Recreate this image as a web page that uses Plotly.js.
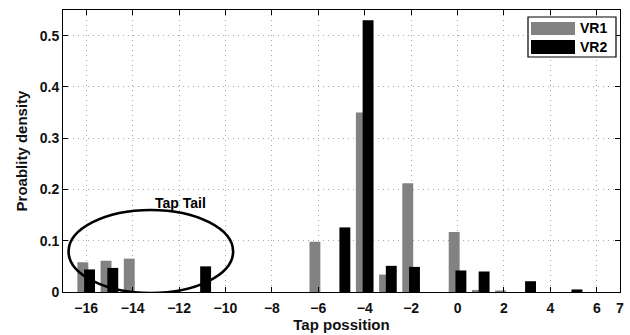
<!DOCTYPE html>
<html>
<head>
<meta charset="utf-8">
<script src="https://cdn.plot.ly/plotly-3.0.1.min.js"></script>
<style>html,body{margin:0;padding:0;background:#fff;}#chart{width:630px;height:335px;}</style>
</head>
<body>
<div id="chart"></div>
<script>
// Data
const vr1Taps = [-16, -15, -14, -6, -4, -3, -2, 0, 1, 2];
const vr1Density = [0.058, 0.061, 0.065, 0.098, 0.350, 0.034, 0.212, 0.117, 0.004, 0.003];
const vr2Taps = [-16, -15, -11, -5, -4, -3, -2, 0, 1, 3, 5];
const vr2Density = [0.044, 0.047, 0.050, 0.126, 0.530, 0.051, 0.049, 0.042, 0.040, 0.021, 0.005];
const xTickVals = [-16, -14, -12, -10, -8, -6, -4, -2, 0, 2, 4, 6, 7];
const xTickText = ['\u221216', '\u221214', '\u221212', '\u221210', '\u22128', '\u22126', '\u22124', '\u22122', '0', '2', '4', '6', '7'];
const yTickVals = [0, 0.1, 0.2, 0.3, 0.4, 0.5];
const yTickText = ['0', '0.1', '0.2', '0.3', '0.4', '0.5'];
const seriesNames = ['VR1', 'VR2'];
const seriesColors = ['#828282', '#000000'];

const FONT = 'Liberation Sans, Arial, Helvetica, sans-serif';

const traces = [
  {type: 'bar', name: seriesNames[0], x: vr1Taps, y: vr1Density, offset: -0.38, width: 0.47,
   marker: {color: seriesColors[0], line: {width: 0}}, showlegend: false},
  {type: 'bar', name: seriesNames[1], x: vr2Taps, y: vr2Density, offset: -0.09, width: 0.47,
   marker: {color: seriesColors[1], line: {width: 0}}, showlegend: false}
];

// plot area in pixels: x 63..620, y 10..292
const L = 63, R = 620, T = 10, B = 292;
const px = v => (v - L) / (R - L);
const py = v => (B - v) / (B - T);

const shapes = [
  {type: 'circle', xref: 'x', yref: 'y', x0: -16.76, x1: -9.67, y0: -0.002, y1: 0.160,
   line: {color: '#000', width: 2.6}},
  // legend box
  {type: 'rect', xref: 'paper', yref: 'paper', x0: px(528), x1: px(616), y0: py(57), y1: py(17),
   line: {color: '#000', width: 1.2}, fillcolor: '#fff', layer: 'above'},
  {type: 'rect', xref: 'paper', yref: 'paper', x0: px(531), x1: px(575), y0: py(35), y1: py(22),
   line: {width: 0}, fillcolor: seriesColors[0], layer: 'above'},
  {type: 'rect', xref: 'paper', yref: 'paper', x0: px(531), x1: px(575), y0: py(54), y1: py(40),
   line: {width: 0}, fillcolor: seriesColors[1], layer: 'above'}
];

const annotations = [
  {text: 'Tap Tail', xref: 'x', yref: 'y', x: -11.95, y: 0.1745, showarrow: false,
   font: {family: FONT, size: 14, color: '#000', weight: 'bold'}},
  {text: seriesNames[0], xref: 'paper', yref: 'paper', x: px(578), y: py(28.5), xanchor: 'left', yanchor: 'middle',
   showarrow: false, font: {family: FONT, size: 14, color: '#000', weight: 'bold'}},
  {text: seriesNames[1], xref: 'paper', yref: 'paper', x: px(578), y: py(47), xanchor: 'left', yanchor: 'middle',
   showarrow: false, font: {family: FONT, size: 14, color: '#000', weight: 'bold'}}
];

const axisCommon = {
  showline: true, linecolor: '#000', linewidth: 1, mirror: 'ticks',
  ticks: 'inside', ticklen: 5, tickcolor: '#000', tickwidth: 1,
  showgrid: true, gridcolor: '#a8a8a8', griddash: '1px,4px', gridwidth: 1,
  zeroline: false,
  tickfont: {family: FONT, size: 14, color: '#111', weight: 'bold'}
};

const layout = {
  width: 630, height: 335,
  margin: {l: L, r: 630 - R, t: T, b: 335 - B},
  paper_bgcolor: '#fff', plot_bgcolor: '#fff',
  barmode: 'overlay',
  showlegend: false,
  xaxis: Object.assign({}, axisCommon, {
    range: [-17, 7], tickmode: 'array', tickvals: xTickVals, ticktext: xTickText,
    ticklabelstandoff: 3,
    title: {text: 'Tap possition', font: {family: FONT, size: 15, color: '#111', weight: 'bold'}, standoff: 4}
  }),
  yaxis: Object.assign({}, axisCommon, {
    range: [0, 0.55], tickmode: 'array', tickvals: yTickVals, ticktext: yTickText,
    title: {text: 'Proablity density', font: {family: FONT, size: 15, color: '#111', weight: 'bold'}, standoff: 8}
  }),
  shapes: shapes,
  annotations: annotations
};

Plotly.newPlot('chart', traces, layout, {staticPlot: true, displayModeBar: false});
</script>
</body>
</html>
